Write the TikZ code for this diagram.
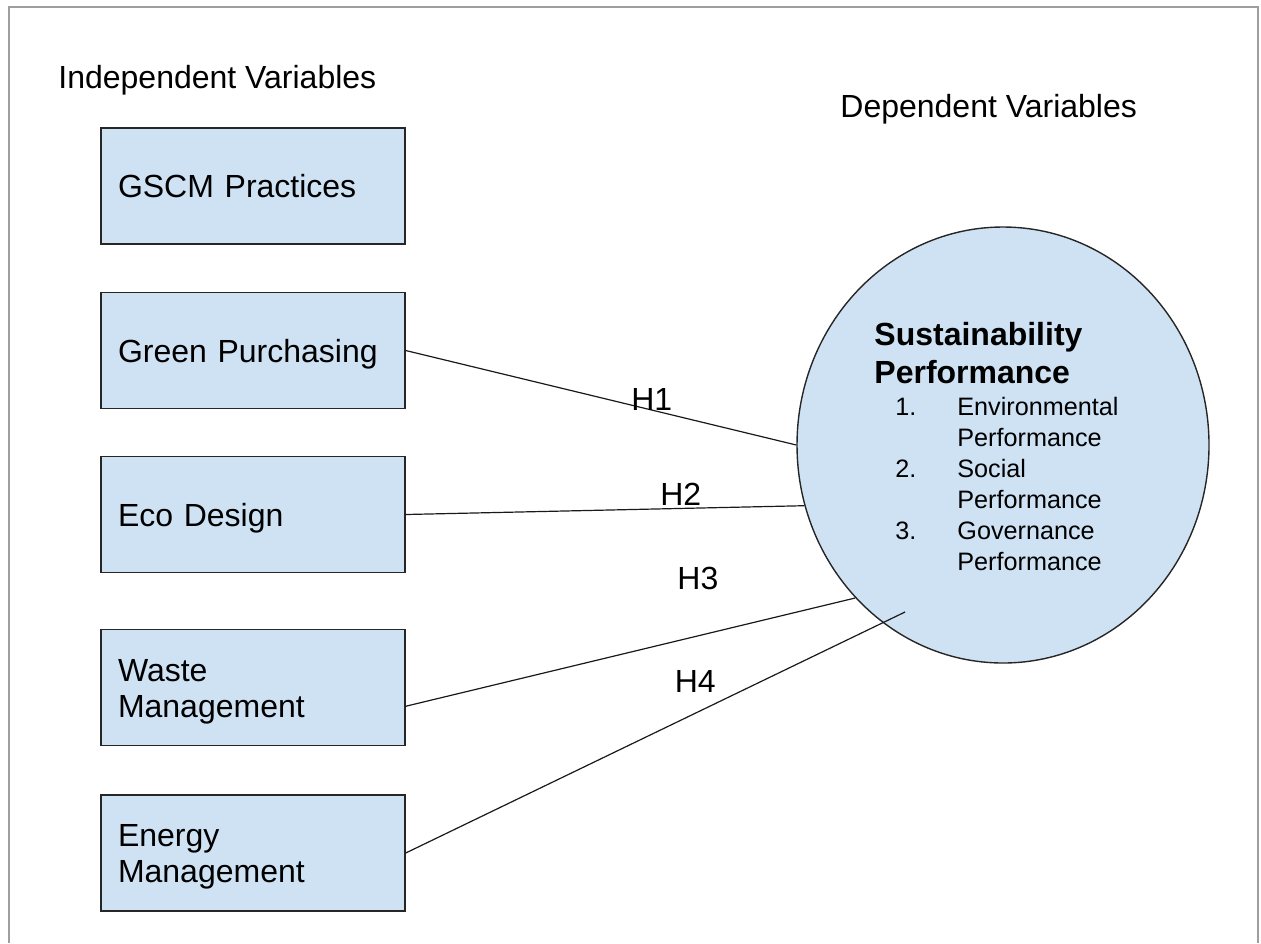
\documentclass[tikz,border=0pt]{standalone}
\usepackage{fontspec}
\setmainfont{Liberation Sans}
\usetikzlibrary{shapes.geometric}
\definecolor{boxblue}{HTML}{CFE2F3}
\definecolor{framegray}{HTML}{9E9E9E}
\newcommand{\boxfont}{\fontsize{16}{18}\selectfont}
\newcommand{\titlefont}{\fontsize{16}{19}\selectfont\bfseries}
\newcommand{\listfont}{\fontsize{12.6}{15.5}\selectfont}
\newcommand{\spitem}[2]{\hspace*{10.5pt}\makebox[31pt][l]{#1}#2}

\tikzset{
  varbox/.style={rectangle, draw=black!85, fill=boxblue, line width=0.7pt,
    text width=135pt, inner xsep=8.5pt, inner ysep=0pt, minimum height=58pt,
    align=left, text height=11.5pt, text depth=0pt, font=\boxfont},
  link/.style={draw=black!90, line width=0.6pt},
  hyp/.style={font=\boxfont, inner sep=0pt}
}

\begin{document}
\begin{tikzpicture}[x=0.5pt, y=-0.5pt]
\useasboundingbox (0,0) rectangle (1261,943);
% open frame round the page
\draw [framegray, line width=1pt] (9,943) -- (9,7) -- (1258,7) -- (1258,943);

\node (indep) at (58,88) [anchor=base west, inner sep=0pt, font=\boxfont] {Independent Variables};
\node (dep) at (840,117) [anchor=base west, inner sep=0pt, font=\boxfont] {Dependent Variables};

% independent variables
\node (gscm) at (253,186) [varbox] {GSCM Practices};
\node (purch) at (253,350.5) [varbox] {Green Purchasing};
\node (eco) at (253,514.5) [varbox] {Eco Design};
\node (waste) at (253,687.5) [varbox, text depth=18pt] {Waste\\Management};
\node (energy) at (253,853) [varbox, text depth=18pt] {Energy\\Management};

% dependent variable
\node (sp) at (1003,445) [ellipse, draw=black!85, fill=boxblue, line width=0.7pt,
  minimum width=206pt, minimum height=218pt, inner sep=0pt] {};
\node (sptext) at (874,345) [anchor=base west, inner sep=0pt] {%
  \begin{minipage}[t]{135pt}
  {\titlefont Sustainability\\Performance\par}
  \vspace{0.5pt}
  {\listfont
  \spitem{1.}{Environmental}\\
  \spitem{}{Performance}\\
  \spitem{2.}{Social}\\
  \spitem{}{Performance}\\
  \spitem{3.}{Governance}\\
  \spitem{}{Performance}\par}
  \end{minipage}};
\coordinate (h4end) at (905,612);

% hypotheses
\draw [link] (purch.east) -- (sp.west) node[hyp, pos=0.63, yshift=5.5pt] {H1};
\draw [link] (eco.east) -- (sp.197) node[hyp, pos=0.69, yshift=7pt] {H2};
\draw [link] (waste.-7.7) -- (sp.226.9) node[hyp, pos=0.65, yshift=28.5pt] {H3};
\draw [link] (energy.east) -- (h4end) node[hyp, pos=0.58, yshift=16pt] {H4};
\end{tikzpicture}
\end{document}
